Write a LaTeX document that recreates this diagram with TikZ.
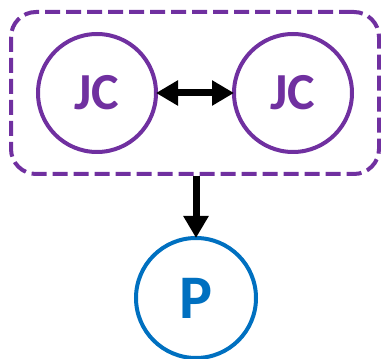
\documentclass[tikz,border=0pt]{standalone}
\usepackage{fontspec}
\setmainfont{Carlito}
\usetikzlibrary{positioning, arrows.meta, fit}
\definecolor{jcpurple}{HTML}{7030A0}
\definecolor{pblue}{HTML}{0070C0}

\begin{document}
\begin{tikzpicture}[
      x=1pt, y=1pt,
      agent/.style={draw=#1, text=#1, circle, line width=4pt, outer sep=0pt, font=\bfseries\fontsize{52}{52}\selectfont},
      link/.style={line width=7pt, -{Triangle[length=22pt,width=24pt]}},
    ]
    \useasboundingbox (0,0) rectangle (381,359);

    \node[agent=jcpurple, minimum size=118pt] (jc1) at (97,266) {JC};
    \node[agent=jcpurple, minimum size=118pt] (jc2) at (293,266) {JC};
    \node[agent=pblue, minimum size=120pt, font=\bfseries\fontsize{62}{62}\selectfont] (p) at (196,61) {P};

    % group around the two JC nodes
    \node[draw=jcpurple, line width=4pt, dash pattern=on 15pt off 6pt, rounded corners=25pt,
          inner xsep=27pt, inner ysep=22pt, fit=(jc1)(jc2)] (grp) {};

    \draw[link, {Triangle[length=22pt,width=24pt]}-{Triangle[length=22pt,width=24pt]}] (jc1.east) -- (jc2.west);
    \draw[link] (p |- grp.south) -- (p.north);
  \end{tikzpicture}
\end{document}
